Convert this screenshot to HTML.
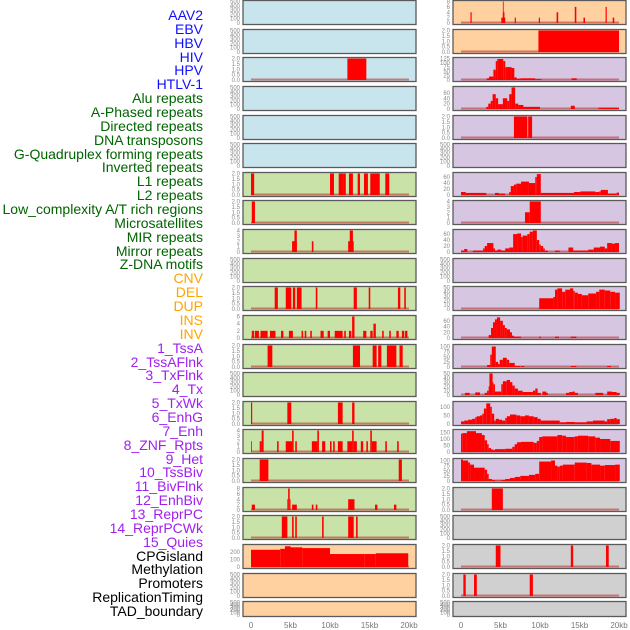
<!DOCTYPE html>
<html><head><meta charset="utf-8"><style>
html,body{margin:0;padding:0;background:#fff;}
#wrap{position:relative;width:630px;height:630px;overflow:hidden;}
.lab{position:absolute;right:427px;font-family:"Liberation Sans",sans-serif;font-size:14px;line-height:14px;white-space:nowrap;}
</style></head><body>
<div id="wrap">
<svg id="svg" width="630" height="630" style="position:absolute;left:0;top:0"></svg>
</div>
<script>
const labels=["AAV2","EBV","HBV","HIV","HPV","HTLV-1","Alu repeats","A-Phased repeats","Directed repeats","DNA transposons","G-Quadruplex forming repeats","Inverted repeats","L1 repeats","L2 repeats","Low_complexity A/T rich regions","Microsatellites","MIR repeats","Mirror repeats","Z-DNA motifs","CNV","DEL","DUP","INS","INV","1_TssA","2_TssAFlnk","3_TxFlnk","4_Tx","5_TxWk","6_EnhG","7_Enh","8_ZNF_Rpts","9_Het","10_TssBiv","11_BivFlnk","12_EnhBiv","13_ReprPC","14_ReprPCWk","15_Quies","CPGisland","Methylation","Promoters","ReplicationTiming","TAD_boundary"];
const labelGroups=[6,13,5,15,5];
const groupColors=["#1010ff","#006400","#ffa500","#a020f0","#000000"];
const xTicks=[0,5,10,15,20];
const xTickLabels=["0","5kb","10kb","15kb","20kb"];
const E=[0,100,200,300,400,500];
const T2=[0,0.5,1,1.5,2];
// left column panels: bg, ymax, ticks, segments [startKb,endKb,value]
const leftBg=["b","b","b","b","b","b","g","g","g","g","g","g","g","g","g","g","g","g","g","o","o","o"];
const leftMax=[500,500,2,500,500,500,2,2,4,500,2,6,2,500,2,4,2,8,2,290,500,500];
const leftTicks=[E,E,T2,E,E,E,T2,T2,[0,1,2,3,4],E,T2,[0,2,4,6],T2,E,T2,[0,1,2,3,4],T2,[0,2,4,6,8],T2,[0,100,200],E,E];
const leftSeg=[[],[],[[12.2,14.6,2]],[],[],[],
[[0,0.4,2],[10,10.5,2],[11.1,11.7,2],[11.7,12,2],[12.4,12.9,2],[13.5,13.8,2],[14.3,14.8,2],[15.1,16.3,2],[17,17.5,2]],
[[0.1,0.5,2]],
[[5.2,5.8,2],[5.5,5.8,4],[7.7,7.9,2],[12.3,13,2],[12.5,12.9,4]],
[],
[[3,3.4,2],[4.4,5.1,2],[5.3,5.6,2],[5.8,6.4,2],[8.2,8.4,2],[13,13.4,2],[14.9,15.1,2],[18.6,18.9,2],[19.4,19.6,2]],
[[0.1,0.4,2],[0.5,1,2],[1.2,2.1,2],[2.4,3.1,2],[3.8,4.1,2],[4.8,5.3,2],[6.4,6.6,2],[6.8,7,2],[7.5,7.7,2],[8.8,9.2,2],[9.7,10,2],[10.6,11.6,2],[11.8,12,2],[12.4,12.7,2],[12.8,13.1,6],[14.2,14.6,2],[15.1,15.4,2],[15.5,15.8,4],[16.6,16.8,2],[17.5,17.7,2],[18.4,18.7,2],[19.1,19.4,2],[19.5,19.8,2]],
[[2.1,2.7,2],[12.9,13.8,2],[15.4,15.9,2],[16.1,16.5,2],[17.2,18.4,2],[18.8,19.2,2]],
[],
[[0,0.15,2],[4.6,5.1,2],[11,11.6,2],[12.8,13.1,2]],
[[0,0.1,2],[1.1,1.35,2],[1.35,1.6,4],[3.3,3.5,2],[4.4,5.2,2],[5.2,5.4,4],[5.6,5.8,2],[7.7,8.4,2],[8.4,8.6,4],[9,9.4,2],[10,10.2,2],[10.4,10.6,2],[11,11.6,2],[12.2,12.8,2],[12.8,13,4],[13,13.4,2],[13.9,14.2,2],[14.6,14.8,2],[15.1,15.3,4],[15.3,15.9,2],[17,17.2,2],[18.5,18.7,2]],
[[1.1,2.2,2],[18.7,19.1,2]],
[[0.1,0.5,2],[4.6,4.7,4],[4.7,4.9,8],[4.9,5,4],[5.2,5.8,2],[7.7,7.9,2],[8.2,8.4,2],[12.3,13.1,4],[15.7,16,2],[18.1,18.4,2]],
[[3.9,4.6,2],[5.2,5.4,2],[5.6,5.8,2],[9,9.2,2],[12.3,13,2],[13.3,13.5,2]],
[[0,3.7,232],[3.7,4.3,245],[4.3,5,280],[5,6.5,265],[6.5,10,255],[10,14.4,175],[14.4,15.8,175],[15.8,19.9,185]],
[],[]];
const rightBg=["o","o","p","p","p","p","p","p","p","p","p","p","p","p","p","p","p","y","y","y","y","y"];
const rightMax=[8,2,125,80,2,500,72,4,72,500,50,75,105,50,125,165,105,2,500,2,2,500];
const rightTicks=[[0,2,4,6,8],T2,[0,25,50,75,100,125],[0,20,40,60],T2,E,[0,20,40,60],[0,1,2,3,4],[0,20,40,60],E,[0,10,20,30,40,50],[0,20,40,60],[0,25,50,75,100],[0,10,20,30,40,50],[0,50,100],[0,50,100,150],[0,25,50,75,100],T2,E,T2,T2,E];
const rightSeg=[
[[1.2,1.35,4],[5.1,5.6,2],[5.3,5.5,4],[5.3,5.4,8],[6.8,6.95,2],[9.85,10,2],[12.1,12.3,4],[14.4,14.6,6],[15.5,15.7,2],[18.3,18.45,6],[19.2,19.4,2]],
[[9.8,20,2]],
[[3.25,3.55,10],[3.55,4.1,20],[4.1,4.4,60],[4.4,4.6,110],[4.6,5.35,122],[5.35,5.6,110],[5.6,6.4,75],[6.4,6.75,70],[6.75,7.05,15],[7.05,7.5,8],[7.5,9.4,10],[9.4,10.2,5],[14,14.65,10]],
[[3.2,3.45,8],[3.45,3.75,20],[3.75,4,30],[4,4.4,55],[4.4,4.7,40],[4.7,5.3,18],[5.3,5.85,40],[5.85,6.1,30],[6.1,6.4,55],[6.4,6.85,80],[6.85,7.25,20],[7.25,7.9,15],[7.9,10,8],[13.9,14.4,12],[17.4,20,5]],
[[6.7,8.4,2],[8.5,9,2]],
[],
[[0,0.6,10],[0.6,3.2,7],[4.3,4.8,7],[4.8,5.6,5],[6.1,6.3,10],[6.3,6.7,30],[6.7,7,35],[7,7.6,38],[7.6,8.6,45],[8.6,9.4,40],[9.4,9.6,60],[9.6,10.1,70],[10.1,14.3,7],[14.3,15.1,10],[15.1,17,12],[17,17.5,10],[17.5,17.7,12],[17.7,18.6,17],[18.6,19.7,5],[19.7,20,8]],
[[8.1,8.7,2],[8.7,10.1,4]],
[[0,0.4,5],[0.4,0.8,10],[1.5,2.8,5],[2.8,3,12],[3,3.3,20],[3.3,4.1,30],[4.1,4.3,12],[4.3,4.6,5],[4.6,5.1,8],[5.1,5.6,5],[5.6,6.1,12],[6.1,6.6,15],[6.6,7.1,60],[7.1,7.6,62],[7.6,7.8,50],[7.8,8.4,55],[8.4,8.7,60],[8.7,9.1,68],[9.1,9.6,72],[9.6,9.9,40],[9.9,10.1,25],[10.1,10.4,20],[10.4,10.6,12],[10.6,11,5],[11.9,12.5,5],[13.6,14.2,15],[14.2,15.3,5],[15.3,16.1,5],[16.1,16.8,8],[16.8,17.6,15],[17.6,18.2,18],[18.2,18.5,12],[18.5,19.1,30],[19.1,19.5,28],[19.5,20,30]],
[],
[[9.9,11.7,25],[11.7,11.9,28],[11.9,12.2,45],[12.2,12.8,48],[12.8,13.2,40],[13.2,13.8,45],[13.8,14.2,48],[14.2,14.4,42],[14.4,14.8,38],[14.8,15.3,35],[15.3,16.1,32],[16.1,17.1,36],[17.1,17.5,40],[17.5,18.2,45],[18.2,18.9,43],[18.9,19.5,40],[19.5,20.1,38]],
[[3.5,3.8,10],[3.8,4.05,35],[4.05,4.3,55],[4.3,4.55,65],[4.55,4.95,72],[4.95,5.3,60],[5.3,5.55,45],[5.55,5.8,35],[5.8,6.2,30],[6.2,6.45,20],[6.45,6.7,8],[6.7,7.6,5],[9.9,10.1,5],[11.9,12.4,5],[13.9,14.6,5]],
[[3.3,3.7,10],[3.7,3.9,60],[3.9,4.4,100],[4.4,4.7,25],[4.7,4.9,15],[4.9,5.3,35],[5.3,5.8,45],[5.8,6.1,35],[6.1,6.8,20],[6.8,7.5,5],[7.6,8,5],[13.9,14.6,5],[18.5,19,5]],
[[0.5,1.1,5],[1.8,2.4,6],[3,3.3,5],[3.3,3.5,10],[3.5,3.6,20],[3.6,4,50],[4,4.1,30],[4.1,4.3,25],[4.3,5.1,8],[5.1,5.3,25],[5.3,5.8,32],[5.8,6.2,35],[6.2,6.5,30],[6.5,6.8,22],[6.8,7.2,15],[7.2,7.8,10],[7.8,9.1,7],[9.1,9.4,10],[9.4,9.7,15],[9.7,10.1,5],[10.3,10.8,8],[10.8,11,5],[13.3,13.7,5],[13.7,14.1,7],[14.1,14.4,8],[14.4,14.8,5],[17,18,5],[18.5,19.1,8],[19.1,19.7,7],[19.7,20.1,5]],
[[0,0.4,15],[0.4,0.9,20],[0.9,1.4,25],[1.4,1.8,30],[1.8,2,40],[2,2.4,45],[2.4,2.7,50],[2.7,2.9,60],[2.9,3.2,90],[3.2,3.7,120],[3.7,3.9,100],[3.9,4.2,60],[4.2,4.4,20],[4.4,4.8,30],[4.8,5.2,25],[5.2,5.6,20],[5.6,5.8,35],[5.8,6.2,45],[6.2,7,55],[7,7.5,50],[7.5,8.1,45],[8.1,8.6,50],[8.6,9.2,45],[9.2,9.7,40],[9.7,10.1,30],[10.1,12.5,20],[12.5,13.3,10],[13.3,14.4,12],[14.4,15.9,10],[15.9,16.7,15],[16.7,18.2,20],[18.2,18.5,15],[18.5,18.9,28],[18.9,19.4,30],[19.4,19.7,35],[19.7,20.1,28]],
[[0,0.15,140],[0.15,0.75,145],[0.75,1.9,160],[1.9,2.65,145],[2.65,3,130],[3,3.3,90],[3.3,3.5,60],[3.5,3.8,30],[3.8,4.1,20],[4.1,4.3,15],[4.3,5.6,22],[5.6,6.5,25],[6.5,6.8,40],[6.8,7.1,60],[7.1,7.6,75],[7.6,9.2,78],[9.2,9.6,70],[9.6,9.9,85],[9.9,10.3,115],[10.3,12.2,120],[12.2,12.8,130],[12.8,13.3,125],[13.3,14.4,115],[14.4,14.8,120],[14.8,16.1,125],[16.1,17,120],[17,17.6,110],[17.6,18.9,100],[18.9,20.1,85]],
[[0,0.25,105],[0.25,0.9,100],[0.9,1.15,90],[1.15,1.65,80],[1.65,3,65],[3,3.3,55],[3.3,3.5,35],[3.5,3.9,10],[3.9,4.3,5],[4.3,5.1,2],[5.1,5.6,5],[5.6,6.2,10],[6.2,6.8,15],[6.8,7.5,20],[7.5,8.6,25],[8.6,9.4,30],[9.4,9.9,35],[9.9,11.4,95],[11.4,11.9,100],[11.9,12.2,75],[12.2,12.5,70],[12.5,12.9,75],[12.9,14.4,80],[14.4,15.9,90],[15.9,16.5,88],[16.5,17.6,80],[17.6,18.2,75],[18.2,19.5,78],[19.5,20.1,80]],
[[3.9,5.3,2]],
[],
[[4.4,5,2],[13.9,14.2,2],[18.35,18.7,2]],
[[0.3,0.6,2],[1.65,2,2],[8.7,9.1,2]],
[]];

const bgCol={b:"#c8e4ec",g:"#c8e2a8",o:"#ffd0a0",p:"#d6c6e2",y:"#d0d0d0"};
const NS="http://www.w3.org/2000/svg";
const svg=document.getElementById("svg");
function mk(tag,attrs,parent){const e=document.createElementNS(NS,tag);for(const k in attrs)e.setAttribute(k,attrs[k]);(parent||svg).appendChild(e);return e;}
const wrap=document.getElementById("wrap");

// labels
let li=0;
labelGroups.forEach((n,g)=>{for(let k=0;k<n;k++){const d=document.createElement("div");d.className="lab";d.style.top=(8+li*13.86)+"px";d.style.color=groupColors[g];d.textContent=labels[li];


wrap.appendChild(d);li++;}});

function rowTop(i){return Math.round(i*28.63);}
function rowH(i){return i===21?16:25;}

function drawPanel(col,i,bg,ymax,ticks,segs){
  const px=col===0?243:453, pw=173, x0=col===0?251:461, kbw=(col===0?158:158)/20;
  const top=rowTop(i), h=rowH(i);
  const g=mk("g",{});
  
  
  const r=mk("rect",{x:px,y:top+0.5,width:pw,height:h-1,fill:bgCol[bg],stroke:"#5a5a5a","stroke-width":1.3},g);
  
  
  const yb=top+h-2, yt=top+1.5;
  const ys=v=>yb-(v/ymax)*(yb-yt);
  const xs=kb=>x0+kb*kbw;
  if(segs.length){
    const base=mk("rect",{x:xs(0),y:yb-1.5,width:xs(20)-xs(0),height:2,fill:"rgba(190,40,40,0.55)"},g);
    
    
  }
  segs.forEach(s=>{
    const b=mk("rect",{x:xs(s[0]),y:ys(s[2]),width:Math.max(0.8,xs(s[1])-xs(s[0])),height:yb-ys(s[2]),fill:"#ff0000"},g);
    
    
  });
  ticks.forEach(t=>{
    const tx=mk("text",{x:px-3,y:ys(t)+2,"text-anchor":"end","font-family":"Liberation Sans, sans-serif","font-size":6,fill:"#8a8a8a"},g);
    tx.textContent=String(ticks===T2?t.toFixed(1):t);
    
    
  });
}
for(let i=0;i<22;i++){drawPanel(0,i,leftBg[i],leftMax[i],leftTicks[i],leftSeg[i]);drawPanel(1,i,rightBg[i],rightMax[i],rightTicks[i],rightSeg[i]);}
[0,1].forEach(col=>{const x0=col===0?251:461;xTicks.forEach((t,k)=>{
  const tx=mk("text",{x:x0+t*7.9,y:628,"text-anchor":"middle","font-family":"Liberation Sans, sans-serif","font-size":8,fill:"#777"});
  tx.textContent=xTickLabels[k];
  
  
});});
</script>
</body></html>
